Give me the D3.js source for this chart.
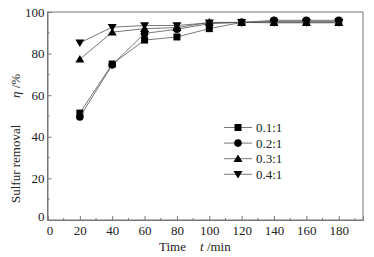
<!DOCTYPE html>
<html>
<head>
<meta charset="utf-8">
<script src="https://cdn.jsdelivr.net/npm/d3@7"></script>
<style>
  body { margin: 0; background: #fff; }
  text { font-family: "Liberation Serif", "Times New Roman", serif; fill: #222; }
</style>
</head>
<body>
<div id="wrapper"></div>
<script>
const times = [20, 40, 60, 80, 100, 120, 140, 160, 180]
const ratios = ["0.1:1", "0.2:1", "0.3:1", "0.4:1"]
const s01 = [51.4, 75, 86.5, 88, 92, 95, 95.5, 95.5, 95.5]
const s02 = [49.5, 74.6, 89.7, 91.7, 94.4, 95, 96, 96, 96]
const s03 = [77.3, 90.3, 92, 92.5, 95, 95, 94.8, 94.8, 94.8]
const s04 = [85.2, 92.7, 93.5, 93.5, 94.8, 95, 95, 95, 95]
const xTicks = [0, 20, 40, 60, 80, 100, 120, 140, 160, 180]
const yTicks = [0, 20, 40, 60, 80, 100]

const seriesList = [s01, s02, s03, s04]
const symbols = ["square", "circle", "up", "down"]

const width = 374, height = 257
const margin = {left: 47.5, right: 11, top: 12, bottom: 37}
const fontFam = '"Liberation Serif", "Times New Roman", serif'

const svg = d3.select("#wrapper").append("svg")
  .attr("width", width).attr("height", height)

const x = d3.scaleLinear().domain([0, 195]).range([margin.left, width - margin.right])
const y = d3.scaleLinear().domain([0, 100]).range([height - margin.bottom, margin.top])

// frame
svg.append("rect")
  .attr("x", x(0)).attr("y", y(100))
  .attr("width", x(195) - x(0)).attr("height", y(0) - y(100))
  .attr("fill", "none").attr("stroke", "#777").attr("stroke-width", 1)

// x axis, ticks inward
const xAxis = svg.append("g").attr("transform", `translate(0,${y(0)})`)
  .call(d3.axisBottom(x).tickValues(xTicks).tickSize(-4).tickPadding(6).tickFormat(d3.format("d")))
  .attr("font-family", fontFam)
xAxis.select(".domain").attr("stroke", "#777")
xAxis.selectAll(".tick line").attr("stroke", "#777")
xAxis.selectAll("text").style("font-size", "13px").attr("fill", "#222")
xAxis.selectAll(".tick").filter(d => d === 0).select("text").attr("dx", 2)
svg.append("g").selectAll("line").data(d3.range(10, 195, 20)).enter().append("line")
  .attr("x1", d => x(d)).attr("x2", d => x(d))
  .attr("y1", y(0)).attr("y2", y(0) - 2).attr("stroke", "#777")

// y axis
const yAxis = svg.append("g").attr("transform", `translate(${x(0)},0)`)
  .call(d3.axisLeft(y).tickValues(yTicks).tickSize(-4).tickPadding(3).tickFormat(d3.format("d")))
  .attr("font-family", fontFam)
yAxis.select(".domain").attr("stroke", "#777")
yAxis.selectAll(".tick line").attr("stroke", "#777")
yAxis.selectAll("text").style("font-size", "13px").attr("fill", "#222")
yAxis.selectAll(".tick").filter(d => d === 0).select("text").attr("dy", "0.05em")
svg.append("g").selectAll("line").data(d3.range(10, 100, 20)).enter().append("line")
  .attr("x1", x(0)).attr("x2", x(0) + 2)
  .attr("y1", d => y(d)).attr("y2", d => y(d)).attr("stroke", "#777")

function drawMarker(g, kind, cx, cy) {
  if (kind === "square") {
    g.append("rect").attr("x", cx - 3.5).attr("y", cy - 3.5).attr("width", 7).attr("height", 7).attr("fill", "#000")
  } else if (kind === "circle") {
    g.append("circle").attr("cx", cx).attr("cy", cy).attr("r", 3.8).attr("fill", "#000")
  } else if (kind === "up") {
    g.append("path").attr("d", `M${cx},${cy - 4.3}L${cx + 4.5},${cy + 3.3}L${cx - 4.5},${cy + 3.3}Z`).attr("fill", "#000")
  } else {
    g.append("path").attr("d", `M${cx},${cy + 4.3}L${cx + 4.5},${cy - 3.3}L${cx - 4.5},${cy - 3.3}Z`).attr("fill", "#000")
  }
}

const line = d3.line().x((d, i) => x(times[i])).y(d => y(d))

seriesList.forEach((s, k) => {
  const g = svg.append("g")
  g.append("path").datum(s).attr("d", line)
    .attr("fill", "none").attr("stroke", "#555").attr("stroke-width", 0.8)
  s.forEach((v, i) => drawMarker(g, symbols[k], x(times[i]), y(v)))
})

// legend
const leg = svg.append("g")
ratios.forEach((r, k) => {
  const ly = 127.5 + k * 15.6
  leg.append("line").attr("x1", 224).attr("x2", 252).attr("y1", ly).attr("y2", ly)
    .attr("stroke", "#555").attr("stroke-width", 0.8)
  drawMarker(leg, symbols[k], 238, ly)
  leg.append("text").attr("x", 256).attr("y", ly + 4.5).style("font-size", "13px").text(r)
})

// axis titles
svg.append("text").attr("x", 159).attr("y", 251).style("font-size", "13px").text("Time")
svg.append("text").attr("x", 200).attr("y", 251).style("font-size", "13px")
  .html('<tspan font-style="italic">t</tspan> /min')

const yt = svg.append("g").attr("transform", "translate(20,0) rotate(-90)")
yt.append("text").attr("x", -203).attr("y", 0).style("font-size", "13px").text("Sulfur  removal")
yt.append("text").attr("x", -98).attr("y", 0).style("font-size", "13px")
  .html('<tspan font-style="italic">η</tspan> /%')
</script>
</body>
</html>
